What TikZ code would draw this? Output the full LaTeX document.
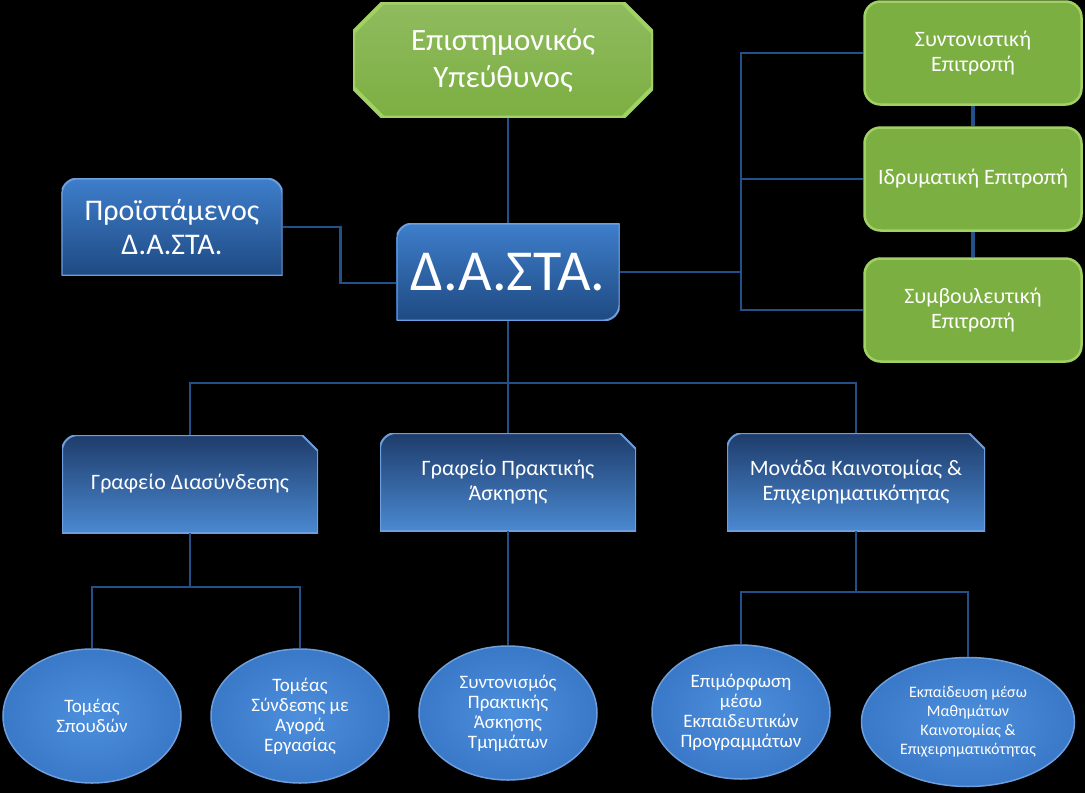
\documentclass[tikz,border=0pt]{standalone}
\usepackage{fontspec}
\setmainfont{Carlito}
\usepackage{tikz}
\usetikzlibrary{shapes.geometric}

\definecolor{boxlight}{HTML}{3E7ECB}
\definecolor{boxdark}{HTML}{1F4A82}
\definecolor{officetop}{HTML}{1E3C6B}
\definecolor{officebottom}{HTML}{4A89D1}
\definecolor{bevelblue}{HTML}{6C9FDC}
\definecolor{leafgreen}{HTML}{7CAF42}
\definecolor{bevelgreen}{HTML}{A2D163}
\definecolor{linkblue}{HTML}{24508A}
\definecolor{ballin}{HTML}{4D90DD}
\definecolor{ballout}{HTML}{3A78C8}

\tikzset{
  link/.style={draw=linkblue, line width=2.8pt},
  boxtext/.style={text=white, align=center, inner sep=0pt},
  headbox/.style={boxtext, font=\fontsize{31}{37}\selectfont,
    minimum width=300pt, minimum height=115pt,
    path picture={\shadedraw[top color=leafgreen!85!white, bottom color=leafgreen, draw=bevelgreen, line width=4pt]
      ([xshift=30pt]path picture bounding box.north west)
      -- ([xshift=-30pt]path picture bounding box.north east)
      -- ([yshift=-30pt]path picture bounding box.north east)
      -- ([yshift=30pt]path picture bounding box.south east)
      -- ([xshift=-30pt]path picture bounding box.south east)
      -- ([xshift=30pt]path picture bounding box.south west)
      -- ([yshift=30pt]path picture bounding box.south west)
      -- ([yshift=-30pt]path picture bounding box.north west) -- cycle;}},
  chiefbox/.style={boxtext, font=\fontsize{30}{34}\selectfont,
    minimum width=221pt, minimum height=97pt,
    path picture={\shadedraw[top color=boxlight, bottom color=boxdark, draw=bevelblue, line width=2pt]
      (path picture bounding box.south west) [rounded corners=16pt]
      -- (path picture bounding box.north west)
      -- (path picture bounding box.north east) [sharp corners]
      -- (path picture bounding box.south east) -- cycle;}},
  unitbox/.style={boxtext, font=\fontsize{58}{60}\selectfont,
    minimum width=223pt, minimum height=97pt,
    path picture={\shadedraw[top color=boxlight, bottom color=boxdark, draw=bevelblue, line width=2pt]
      (path picture bounding box.south west) [rounded corners=16pt]
      -- (path picture bounding box.north west) [sharp corners]
      -- (path picture bounding box.north east) [rounded corners=16pt]
      -- (path picture bounding box.south east) [sharp corners] -- cycle;}},
  officebox/.style={boxtext, font=\fontsize{22}{25}\selectfont,
    minimum width=256pt, minimum height=98pt,
    path picture={\shadedraw[top color=officetop, bottom color=officebottom, draw=bevelblue, line width=2pt]
      (path picture bounding box.south west) [rounded corners=16pt]
      -- (path picture bounding box.north west) [sharp corners]
      -- ([xshift=-16pt]path picture bounding box.north east)
      -- ([yshift=-16pt]path picture bounding box.north east)
      -- (path picture bounding box.south east) -- cycle;}},
  committee/.style={rectangle, rounded corners=16pt, minimum width=217pt, minimum height=103pt,
    fill=leafgreen, draw=bevelgreen, line width=2.5pt, text=white, align=center,
    font=\fontsize{22}{25}\selectfont},
  sector/.style={ellipse, minimum width=178pt, minimum height=134pt, inner sep=0pt,
    inner color=ballin, outer color=ballout, draw=bevelblue, line width=1.5pt,
    text=white, align=center, font=\fontsize{19}{20}\selectfont}
}

\begin{document}
\begin{tikzpicture}[x=1pt,y=-1pt]
\fill[black] (0,0) rectangle (1085,793);
\useasboundingbox (0,0) rectangle (1085,793);

\node[headbox] (head) at (503,60) {Επιστημονικός\\Υπεύθυνος};
\node[chiefbox] (chief) at (172,227) {Προϊστάμενος\\Δ.Α.ΣΤΑ.};
\node[unitbox] (dasta) at (508,272) {Δ.Α.ΣΤΑ.};

\node[committee] (coord) at (973,53) {Συντονιστική\\Επιτροπή};
\node[committee] (inst) at (973,179) {Ιδρυματική Επιτροπή};
\node[committee] (advis) at (973,310) {Συμβουλευτική\\Επιτροπή};

\node[officebox] (liaison) at (190,484) {Γραφείο Διασύνδεσης};
\node[officebox] (practice) at (508,482) {Γραφείο Πρακτικής\\Άσκησης};
\node[officebox, minimum width=258pt] (innov) at (856,482) {Μονάδα Καινοτομίας \&\\Επιχειρηματικότητας};

\node[sector] (studies) at (92,716) {Τομέας\\Σπουδών};
\node[sector] (market) at (300,716) {Τομέας\\Σύνδεσης με\\Αγορά\\Εργασίας};
\node[sector] (coordpr) at (508,713) {Συντονισμός\\Πρακτικής\\Άσκησης\\Τμημάτων};
\node[sector] (training) at (741,712) {Επιμόρφωση\\μέσω\\Εκπαιδευτικών\\Προγραμμάτων};
\node[sector, minimum width=213pt, minimum height=129pt, font=\fontsize{16}{19}\selectfont] (courses) at (968,722) {Εκπαίδευση μέσω\\Μαθημάτων\\Καινοτομίας \&\\Επιχειρηματικότητας};

\coordinate (hub) at (508,383);
\coordinate (spine) at (741,272);
\coordinate (leftbus) at (190,587);
\coordinate (rightbus) at (856,592);

\draw[link] (dasta.north) -- (dasta.north |- head.south);
\draw[link] (chief.east) -- ++(58,0) |- ([yshift=-11pt]dasta.west);
\draw[link] (dasta.south) -- (hub);
\draw[link] (liaison.north) |- (hub) -| (innov.north);
\draw[link] (hub) -- (practice.north);
\draw[link] (dasta.east) -- (spine);
\draw[link] (coord.west) -| (spine) |- (advis.west);
\draw[link] (inst.west) -- (inst.west -| spine);
\draw[link, line width=4pt] (coord.south) -- (inst.north);
\draw[link, line width=4pt] (inst.south) -- (advis.north);
\draw[link] (liaison.south) -- (leftbus);
\draw[link] (studies.north) |- (leftbus) -| (market.north);
\draw[link] (practice.south) -- (coordpr.north);
\draw[link] (innov.south) -- (rightbus);
\draw[link] (training.north) |- (rightbus) -| (courses.north);
\end{tikzpicture}
\end{document}
